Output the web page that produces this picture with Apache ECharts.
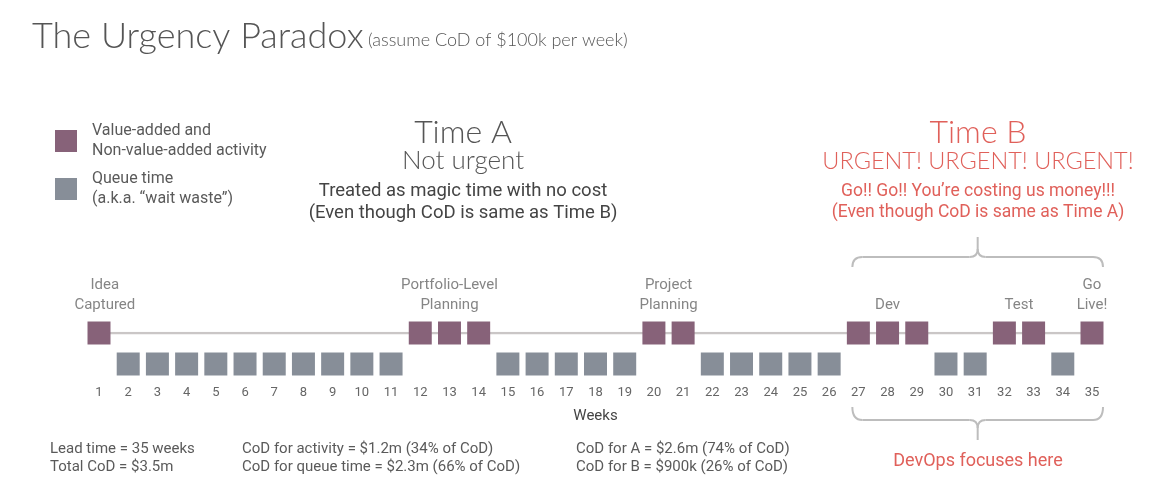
<!DOCTYPE html>
<html>
<head>
<meta charset="utf-8">
<title>The Urgency Paradox</title>
<script src="https://cdn.jsdelivr.net/npm/echarts@6/dist/echarts.min.js"></script>
<style>
  html, body { margin: 0; padding: 0; background: #fff; }
  #main { width: 1162px; height: 496px; }
</style>
</head>
<body>
<div id="main"></div>
<script>
// weeks on the timeline
const weeks = [1, 35]
// weeks spent on activity (upper row) and in a queue (lower row)
const activityWeeks = [1, 12, 13, 14, 20, 21, 27, 28, 29, 32, 33, 35]
const queueWeeks = [2, 3, 4, 5, 6, 7, 8, 9, 10, 11, 15, 16, 17, 18, 19, 22, 23, 24, 25, 26, 30, 31, 34]
// milestone captions and the week they sit over
const milestoneNames = ['Idea\nCaptured', 'Portfolio-Level\nPlanning', 'Project\nPlanning', 'Dev', 'Test', 'Go\nLive!']
const milestoneWeeks = [1.2, 13, 20.5, 28, 32.5, 35]
// the "Time B" / DevOps stretch
const devopsRange = [27, 35]

const ACT = '#876279'
const QUEUE = '#878e98'
const RED = '#e0605a'
const GREY = '#5a5a5a'
const BODY = 'Roboto, sans-serif'
const THIN = 'Lato, sans-serif'

const ACT_NAME = 'Value-added and\nNon-value-added activity'
const QUEUE_NAME = 'Queue time\n(a.k.a. “wait waste”)'

const chart = echarts.init(document.getElementById('main'))

function txt(text, x, y, size, color, opts) {
  opts = opts || {}
  return {
    type: 'text', x: x, y: y, silent: true,
    style: {
      text: text, fill: color, fontSize: size,
      fontFamily: opts.family || BODY, fontWeight: opts.weight || 'normal',
      align: opts.align || 'left', verticalAlign: 'middle'
    }
  }
}

const texts = [
  txt('The Urgency Paradox', 32, 36, 36, '#555', {family: THIN, weight: 300}),
  txt('(assume CoD of $100k per week)', 368, 40, 18, '#555', {family: THIN, weight: 300}),

  txt('Time A', 463, 133, 32, '#555', {family: THIN, weight: 300, align: 'center'}),
  txt('Not urgent', 463, 161, 26, '#555', {family: THIN, weight: 300, align: 'center'}),
  txt('Treated as magic time with no cost', 463, 191, 18.5, '#444', {align: 'center'}),
  txt('(Even though CoD is same as Time B)', 463, 213, 18.5, '#444', {align: 'center'}),

  txt('Time B', 978, 133, 32, RED, {family: THIN, weight: 300, align: 'center'}),
  txt('URGENT! URGENT! URGENT!', 978, 161, 23.5, RED, {family: THIN, weight: 300, align: 'center'}),
  txt('Go!! Go!! You’re costing us money!!!', 978, 192, 17.5, RED, {align: 'center'}),
  txt('(Even though CoD is same as Time A)', 978, 213, 17.5, RED, {align: 'center'}),

  txt('Lead time = 35 weeks', 50, 449, 15, GREY),
  txt('Total CoD = $3.5m', 50, 467, 15, GREY),
  txt('CoD for activity = $1.2m (34% of CoD)', 242, 449, 15, GREY),
  txt('CoD for queue time = $2.3m (66% of CoD)', 242, 467, 15, GREY),
  txt('CoD for A = $2.6m (74% of CoD)', 576, 449, 15, GREY),
  txt('CoD for B = $900k (26% of CoD)', 576, 467, 15, GREY),
  txt('DevOps focuses here', 978, 461, 18, RED, {align: 'center'})
]

chart.setOption({
  animation: false,
  backgroundColor: '#fff',
  grid: {left: 99, right: 70, top: 333, height: 31},
  legend: {
    orient: 'vertical', left: 55, top: 121, itemGap: 8, padding: 0,
    itemWidth: 22, itemHeight: 22, icon: 'rect',
    selectedMode: false,
    data: [ACT_NAME, QUEUE_NAME],
    textStyle: {color: GREY, fontSize: 16, lineHeight: 20, fontFamily: BODY, padding: [0, 0, 0, 10]}
  },
  xAxis: {
    type: 'value', min: weeks[0], max: weeks[1], interval: 1,
    name: 'Weeks', nameLocation: 'middle', nameGap: 45,
    nameTextStyle: {color: '#444', fontSize: 15, fontFamily: BODY},
    axisLine: {show: false}, axisTick: {show: false}, splitLine: {show: false},
    axisLabel: {color: '#666', fontSize: 13, margin: 22, fontFamily: BODY}
  },
  yAxis: {type: 'value', min: 0, max: 1, show: false},
  series: [
    {
      type: 'line', silent: true, symbol: 'none', z: 1,
      data: [[weeks[0], 1], [weeks[1], 1]],
      lineStyle: {color: '#cac6c6', width: 2.5}
    },
    {
      name: ACT_NAME, type: 'scatter', symbol: 'rect', symbolSize: 23, clip: false, z: 3,
      itemStyle: {color: ACT, opacity: 1},
      data: activityWeeks.map(w => [w, 1])
    },
    {
      name: QUEUE_NAME, type: 'scatter', symbol: 'rect', symbolSize: 23, clip: false, z: 3,
      itemStyle: {color: QUEUE, opacity: 1},
      data: queueWeeks.map(w => [w, 0])
    },
    {
      type: 'scatter', symbolSize: 0, silent: true, clip: false,
      data: milestoneNames.map((n, i) => ({name: n, value: [milestoneWeeks[i], 1]})),
      label: {
        show: true, position: 'top', distance: 18, formatter: '{b}',
        color: '#666', fontSize: 15, lineHeight: 20, fontFamily: BODY
      }
    }
  ],
  graphic: texts
})

// braces around the devops stretch, placed from the axis scale
const x0 = chart.convertToPixel({xAxisIndex: 0}, devopsRange[0]) - 6
const x1 = chart.convertToPixel({xAxisIndex: 0}, devopsRange[1]) + 11
const xm = (x0 + x1) / 2
const braceStyle = {stroke: '#bdbdbd', lineWidth: 2, fill: null}

function curve(ax, ay, cx, cy, bx, by) {
  return {type: 'bezierCurve', silent: true, style: braceStyle,
          shape: {x1: ax, y1: ay, cpx1: cx, cpy1: cy, x2: bx, y2: by}}
}
function seg(ax, ay, bx, by) {
  return {type: 'line', silent: true, style: braceStyle,
          shape: {x1: ax, y1: ay, x2: bx, y2: by}}
}
function brace(yEnd, yBar, yTip) {
  const d = yBar > yEnd ? 1 : -1   // from the bar toward the tip
  const r = 10
  return [
    curve(x0, yEnd, x0, yBar, x0 + r, yBar),
    seg(x0 + r, yBar, xm - 8, yBar),
    curve(xm - 8, yBar, xm, yBar, xm, yBar + d * 8),
    seg(xm, yBar + d * 8, xm, yTip),
    curve(xm + 8, yBar, xm, yBar, xm, yBar + d * 8),
    seg(xm + 8, yBar, x1 - r, yBar),
    curve(x1, yEnd, x1, yBar, x1 - r, yBar)
  ]
}

chart.setOption({
  graphic: texts.concat(brace(267, 257, 237), brace(407, 420, 440))
})
</script>
</body>
</html>
